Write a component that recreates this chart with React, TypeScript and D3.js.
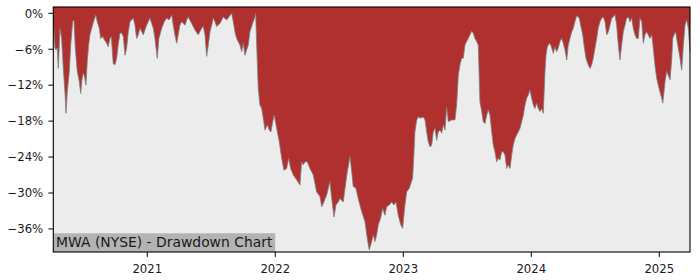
import React from "react";
import * as d3 from "d3";

// Dates as decimal years
const years: number[] = [
  2020.266, 2020.279, 2020.287, 2020.297, 2020.305, 2020.318, 2020.331, 2020.344, 2020.357, 2020.365,
  2020.375, 2020.391, 2020.402, 2020.417, 2020.427, 2020.438, 2020.453, 2020.469, 2020.480, 2020.490,
  2020.500, 2020.511, 2020.521, 2020.531, 2020.542, 2020.552, 2020.566, 2020.584, 2020.599, 2020.609,
  2020.625, 2020.636, 2020.652, 2020.667, 2020.683, 2020.695, 2020.709, 2020.719, 2020.734, 2020.748,
  2020.761, 2020.773, 2020.787, 2020.800, 2020.813, 2020.826, 2020.839, 2020.852, 2020.865, 2020.891,
  2020.904, 2020.917, 2020.930, 2020.943, 2020.969, 2020.982, 2020.995, 2021.021, 2021.047, 2021.060,
  2021.078, 2021.091, 2021.113, 2021.133, 2021.152, 2021.170, 2021.191, 2021.203, 2021.216, 2021.230,
  2021.242, 2021.255, 2021.269, 2021.295, 2021.308, 2021.320, 2021.347, 2021.373, 2021.398, 2021.425,
  2021.438, 2021.451, 2021.464, 2021.477, 2021.490, 2021.503, 2021.516, 2021.529, 2021.542, 2021.568,
  2021.594, 2021.620, 2021.659, 2021.672, 2021.685, 2021.698, 2021.724, 2021.738, 2021.750, 2021.763,
  2021.789, 2021.802, 2021.828, 2021.841, 2021.847, 2021.855, 2021.867, 2021.880, 2021.894, 2021.906,
  2021.920, 2021.938, 2021.953, 2021.966, 2021.980, 2021.992, 2022.011, 2022.031, 2022.050, 2022.068,
  2022.089, 2022.105, 2022.120, 2022.141, 2022.167, 2022.193, 2022.206, 2022.219, 2022.232, 2022.250,
  2022.271, 2022.297, 2022.323, 2022.349, 2022.363, 2022.380, 2022.402, 2022.427, 2022.441, 2022.459,
  2022.474, 2022.492, 2022.505, 2022.531, 2022.545, 2022.563, 2022.584, 2022.597, 2022.609, 2022.630,
  2022.648, 2022.675, 2022.701, 2022.719, 2022.734, 2022.753, 2022.766, 2022.779, 2022.792, 2022.805,
  2022.823, 2022.839, 2022.857, 2022.870, 2022.891, 2022.909, 2022.927, 2022.943, 2022.961, 2022.980,
  2022.995, 2023.013, 2023.027, 2023.047, 2023.073, 2023.084, 2023.091, 2023.105, 2023.117, 2023.136,
  2023.156, 2023.170, 2023.183, 2023.195, 2023.209, 2023.222, 2023.234, 2023.248, 2023.261, 2023.273,
  2023.287, 2023.300, 2023.313, 2023.326, 2023.339, 2023.352, 2023.378, 2023.404, 2023.417, 2023.430,
  2023.443, 2023.456, 2023.469, 2023.482, 2023.495, 2023.508, 2023.521, 2023.534, 2023.547, 2023.560,
  2023.573, 2023.586, 2023.599, 2023.613, 2023.625, 2023.638, 2023.652, 2023.664, 2023.677, 2023.691,
  2023.703, 2023.716, 2023.730, 2023.742, 2023.755, 2023.769, 2023.781, 2023.795, 2023.808, 2023.820,
  2023.834, 2023.847, 2023.859, 2023.873, 2023.886, 2023.898, 2023.912, 2023.925, 2023.938, 2023.951,
  2023.964, 2023.977, 2023.990, 2024.003, 2024.016, 2024.029, 2024.042, 2024.055, 2024.068, 2024.081,
  2024.094, 2024.107, 2024.115, 2024.125, 2024.141, 2024.152, 2024.164, 2024.172, 2024.185, 2024.198,
  2024.211, 2024.224, 2024.238, 2024.250, 2024.263, 2024.277, 2024.289, 2024.302, 2024.316, 2024.328,
  2024.341, 2024.355, 2024.375, 2024.386, 2024.402, 2024.412, 2024.427, 2024.445, 2024.459, 2024.472,
  2024.484, 2024.498, 2024.511, 2024.523, 2024.537, 2024.550, 2024.563, 2024.576, 2024.589, 2024.602,
  2024.615, 2024.628, 2024.641, 2024.654, 2024.667, 2024.680, 2024.693, 2024.706, 2024.719, 2024.732,
  2024.745, 2024.758, 2024.771, 2024.784, 2024.797, 2024.810, 2024.823, 2024.836, 2024.849, 2024.863,
  2024.875, 2024.888, 2024.902, 2024.914, 2024.927, 2024.941, 2024.953, 2024.966, 2024.980, 2024.992,
  2025.005, 2025.019, 2025.027, 2025.037, 2025.045, 2025.058, 2025.070, 2025.084, 2025.097, 2025.105,
  2025.115, 2025.128, 2025.136, 2025.148, 2025.162, 2025.175, 2025.188, 2025.201, 2025.214, 2025.227,
  2025.240,
];

// Drawdown in percent
const drawdown: number[] = [
  -1.4, -5.8, -6.1, -5.8, -9.2, -2.5, -4.2, -9.2, -13.1, -16.7,
  -13.1, -9.7, -5.3, -1.4, -1.1, -5.8, -9.7, -11.4, -13.4, -11.1,
  -10.0, -10.6, -12.0, -8.1, -5.3, -3.6, -2.5, -1.1, -0.3, -1.4,
  -2.5, -4.2, -3.9, -4.5, -5.0, -5.6, -4.2, -3.9, -8.4, -8.6,
  -7.5, -5.3, -3.3, -3.3, -3.9, -7.0, -5.8, -3.1, -1.4, -0.8,
  -2.0, -4.2, -3.6, -2.5, -3.6, -2.8, -2.0, -0.8, -2.5, -4.2,
  -7.5, -4.2, -2.5, -1.4, -0.8, -1.1, -0.3, -2.0, -3.6, -5.0,
  -3.6, -2.0, -1.4, -2.0, -1.1, -0.6, -1.7, -2.8, -3.6, -2.5,
  -2.2, -3.6, -7.2, -5.3, -3.1, -2.0, -0.8, -1.4, -2.2, -1.7,
  -0.6, -1.1, 0, -1.4, -3.1, -4.2, -5.3, -6.4, -5.0, -7.0,
  -5.3, -3.1, -1.4, -0.6, 0, -5.3, -12.5, -15.3, -15.9, -17.5,
  -19.5, -18.6, -19.5, -19.8, -18.1, -17.0, -19.2, -21.4, -24.2, -26.2,
  -25.9, -24.2, -25.9, -27.0, -27.8, -28.7, -24.8, -25.3, -24.8, -24.8,
  -25.9, -27.0, -29.8, -30.6, -32.3, -31.5, -30.3, -28.1, -30.9, -34.0,
  -32.0, -31.5, -30.9, -31.5, -29.2, -26.4, -23.9, -26.4, -28.9, -29.2,
  -30.9, -33.1, -34.8, -37.6, -39.5, -38.1, -37.0, -38.1, -37.0, -35.3,
  -34.2, -32.6, -33.7, -32.3, -32.0, -31.5, -32.0, -31.5, -33.7, -35.3,
  -35.9, -32.0, -29.8, -29.2, -27.5, -23.1, -19.8, -17.8, -17.3, -17.5,
  -17.3, -17.8, -19.8, -21.4, -22.3, -22.0, -19.8, -19.2, -21.2, -19.8,
  -19.5, -20.0, -18.6, -19.5, -15.6, -18.1, -17.8, -17.8, -15.3, -10.3,
  -8.6, -7.5, -7.5, -5.3, -4.7, -4.2, -3.6, -3.0, -3.3, -4.2,
  -4.7, -5.3, -14.8, -16.4, -18.1, -18.4, -17.0, -16.1, -17.0, -19.8,
  -22.0, -23.1, -24.8, -24.2, -24.5, -23.1, -23.1, -23.7, -25.9, -25.3,
  -25.9, -23.7, -22.0, -20.9, -20.3, -19.8, -19.2, -18.1, -17.0, -15.3,
  -14.2, -13.6, -12.8, -14.2, -15.3, -15.9, -15.0, -15.9, -16.4, -15.9,
  -16.7, -9.7, -7.0, -5.6, -5.0, -5.3, -6.1, -6.7, -5.6, -6.4,
  -5.8, -4.7, -4.2, -5.0, -6.1, -7.8, -5.3, -4.2, -3.1, -2.5,
  -1.4, -0.4, -0.8, -2.0, -3.6, -5.3, -7.5, -8.6, -9.2, -8.6,
  -7.5, -5.8, -4.2, -2.5, -1.4, -0.8, -0.6, -1.4, -3.6, -3.1,
  -2.0, -0.8, -0.6, -0.2, -2.0, -5.3, -7.8, -5.3, -3.1, -2.0,
  -0.8, -0.6, -1.4, -0.8, -2.5, -3.6, -4.2, -4.2, -0.8, -1.4,
  -5.0, -3.6, -3.1, -3.6, -4.2, -3.6, -5.8, -8.6, -10.9, -12.0,
  -13.1, -14.2, -15.0, -13.1, -11.4, -9.7, -10.3, -11.1, -7.8, -4.2,
  -3.6, -3.1, -4.2, -5.8, -7.5, -9.5, -5.3, -2.0, -1.1, -2.5,
  -6.4,
];

const xTicks: number[] = [2021, 2022, 2023, 2024, 2025];
const yTicks: number[] = [0, -6, -12, -18, -24, -30, -36];
const yDomain: [number, number] = [-39.85, 1.05];
const title = "MWA (NYSE) - Drawdown Chart";

const FONT = "'DejaVu Sans', sans-serif";

export default function App() {
  const W = 700;
  const H = 280;
  const left = 53.3;
  const right = 690;
  const top = 7;
  const bottom = 252;

  const x = d3
    .scaleLinear()
    .domain([years[0], years[years.length - 1]])
    .range([left, right]);
  const y = d3.scaleLinear().domain(yDomain).range([bottom, top]);

  const data = years.map((t, i) => ({ t, v: drawdown[i] }));

  const area = d3
    .area<{ t: number; v: number }>()
    .x((d) => x(d.t))
    .y0(top)
    .y1((d) => y(d.v));
  const line = d3
    .line<{ t: number; v: number }>()
    .x((d) => x(d.t))
    .y((d) => y(d.v));

  const fmtY = (v: number) => (v === 0 ? "0%" : "\u2212" + Math.abs(v) + "%");

  return (
    <svg
      width={W}
      height={H}
      style={{ position: "absolute", left: 0, top: 0, background: "#ffffff" }}
      fontFamily={FONT}
    >
      <rect x={left} y={top} width={right - left} height={bottom - top} fill="#ececec" />
      <path d={area(data) || ""} fill="#b03030" />
      <path d={line(data) || ""} fill="none" stroke="#7a8080" strokeWidth={1} strokeOpacity={0.8} />

      {/* title label */}
      <rect x={left} y={233.3} width={222} height={bottom - 233.3} fill="#b3b3b3" />
      <text x={56} y={246.5} fontSize={13.9} fill="#1a1a1a">
        {title}
      </text>

      {/* frame */}
      <rect
        x={left}
        y={top}
        width={right - left}
        height={bottom - top}
        fill="none"
        stroke="#000"
        strokeWidth={1.1}
      />

      {/* y axis */}
      {yTicks.map((v) => (
        <g key={v}>
          <line x1={left - 4.9} x2={left} y1={y(v)} y2={y(v)} stroke="#000" strokeWidth={1} />
          <text x={43.2} y={y(v) + 4.3} fontSize={11.7} textAnchor="end" fill="#1a1a1a">
            {fmtY(v)}
          </text>
        </g>
      ))}

      {/* x axis */}
      {xTicks.map((t) => (
        <g key={t}>
          <line x1={x(t)} x2={x(t)} y1={bottom} y2={bottom + 4.9} stroke="#000" strokeWidth={1} />
          <text x={x(t)} y={272.5} fontSize={11.7} textAnchor="middle" fill="#1a1a1a">
            {String(t)}
          </text>
        </g>
      ))}
    </svg>
  );
}
